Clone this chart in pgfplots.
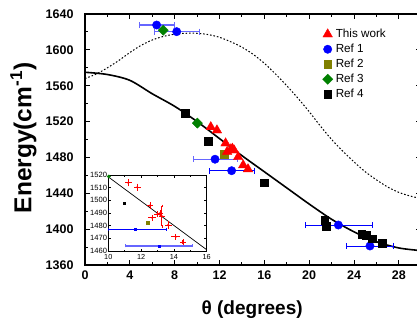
\documentclass[border=0pt]{standalone}
\usepackage{fontspec}
\setmainfont{Liberation Sans}
\usepackage{pgfplots}
\pgfplotsset{compat=1.18}
\definecolor{refolive}{RGB}{128,128,0}
\definecolor{refgreen}{RGB}{0,128,0}
\begin{document}
\begin{tikzpicture}
\begin{axis}[
  name=main, at={(0pt,0pt)}, anchor=south west,
  scale only axis, width=336.3pt, height=251pt,
  xmin=0, xmax=30, ymin=1360, ymax=1640,
  xtick={0,4,...,28}, ytick={1360,1400,...,1640},
  minor x tick num=1, minor y tick num=1,
  tick align=inside, major tick length=5pt, minor tick length=3pt,
  axis line style={line width=1.3pt},
  every tick/.style={line width=1pt, black},
  scaled ticks=false,
  /pgf/number format/assume math mode=true,
  /pgf/number format/1000 sep={},
  ticklabel style={font=\fontsize{12.5}{14}\selectfont\bfseries},
  yticklabel style={xshift=-8pt},
  xticklabel style={yshift=-2pt},
  xlabel={θ (degrees)}, ylabel={Energy(cm\textsuperscript{-1})},
  xlabel style={at={(axis description cs:0.497,-0.179)}, anchor=center, font=\fontsize{19}{22}\selectfont\bfseries},
  ylabel style={at={(axis description cs:-0.183,0.506)}, anchor=center, font=\fontsize{24.5}{28}\selectfont\bfseries},
  legend style={at={(axis description cs:0.697,0.950)}, anchor=north west, draw=none, fill=none,
    font=\fontsize{11.7}{13}\selectfont, row sep=4pt, column sep=2pt,
    nodes={inner sep=1pt, text height=8pt, text depth=1pt}},
  legend cell align=left,
  legend image code/.code={\draw[#1,mark repeat=2,mark phase=2] plot coordinates {(0pt,0pt) (5pt,0pt) (10pt,0pt)};},
]
\addlegendimage{only marks, mark=triangle*, mark size=5.5pt, red}
\addlegendentry{This work}
\addlegendimage{only marks, mark=*, mark size=4.2pt, blue}
\addlegendentry{Ref 1}
\addlegendimage{only marks, mark=square*, mark size=3.8pt, refolive}
\addlegendentry{Ref 2}
\addlegendimage{only marks, mark=square*, mark size=3.6pt, mark options={rotate=45}, refgreen}
\addlegendentry{Ref 3}
\addlegendimage{only marks, mark=square*, mark size=3.8pt, black}
\addlegendentry{Ref 4}
% fitted curves
\addplot[black, line width=1.6pt, smooth, forget plot] coordinates {
(0,1575)(2,1572.5)(4,1566)(6,1551)(8,1537)(10,1520)(12,1501)(14,1482)(16,1464)(18,1446)(20,1428)(22,1411)(24,1397)(26,1386)(28,1379)(30,1376)};
\addplot[black, line width=1pt, dash pattern=on 1.6pt off 1.9pt, smooth, forget plot] coordinates {
(0,1568)(1,1573)(2,1580)(3,1588)(4,1597)(5,1605)(6,1611)(7,1615)(8,1617.5)(9,1618.5)(10,1618.5)(11,1617)(12,1614)(13,1609)(14,1603)(15,1595)(16,1585)(17,1573)(18,1560)(19,1546)(20,1531)(21,1515)(22,1500)(23,1487)(24,1475)(25,1464)(26,1455)(27,1447)(28,1441)(29,1437)(30,1434)};
% Ref 1 (dark error bars)
\addplot[only marks, mark=*, mark size=4.2pt, blue, forget plot,
  error bars/.cd, x dir=both, x explicit,
  error bar style={line width=0.8pt, blue},
  error mark options={rotate=90, mark size=3pt, line width=0.8pt, blue}] coordinates {
(22.6,1404.6) += (3.03,0) -= (2.97,0)
(25.42,1381.2) += (2.08,0) -= (2.08,0)
(13.08,1465.2) += (2.0,0) -= (1.99,0)};
% Ref 1 (light error bars)
\addplot[only marks, mark=*, mark size=4.2pt, blue, forget plot,
  error bars/.cd, x dir=both, x explicit,
  error bar style={line width=1.1pt, blue!60},
  error mark options={rotate=90, mark size=3pt, line width=1pt, blue!60}] coordinates {
(6.39,1627.7) += (1.63,0) -= (1.55,0)
(8.18,1620.3) += (2.0,0) -= (1.94,0)
(11.6,1478) += (1.99,0) -= (1.88,0)};
% Ref 2
\addplot[only marks, mark=square*, mark size=3.8pt, refolive, forget plot] coordinates {(12.4,1483.5)};
% Ref 3
\addplot[only marks, mark=square*, mark size=3.6pt, mark options={rotate=45}, refgreen, forget plot] coordinates {(6.98,1622)(10.03,1518.3)};
% Ref 4
\addplot[only marks, mark=square*, mark size=3.8pt, black, forget plot] coordinates {
(8.92,1529.5)(11.0,1498.2)(15.97,1451.8)(21.4,1410)(21.5,1403)(24.7,1394.5)(25.1,1393.5)(25.6,1389.5)(26.5,1384)};
% This work
\addplot[only marks, mark=triangle*, mark size=5.5pt, red, forget plot] coordinates {
(11.22,1513.9)(11.77,1510.3)(12.54,1495.8)(12.68,1486.3)(13.01,1489.2)(13.15,1489.8)(13.3,1488)(13.66,1480.5)(14.11,1471.3)(14.54,1466.9)};
\end{axis}
% inset
\begin{axis}[
  at={(23.3pt,14pt)}, anchor=south west,
  scale only axis, width=98.4pt, height=76pt,
  xmin=10, xmax=16, ymin=1460, ymax=1520,
  xtick={10,12,14,16}, minor x tick num=1,
  ytick={1460,1470,...,1520},
  tick align=inside, major tick length=2.5pt, minor tick length=1.5pt,
  axis background/.style={fill=white},
  axis line style={line width=0.6pt},
  every tick/.style={line width=0.5pt, black},
  scaled ticks=false,
  /pgf/number format/assume math mode=true,
  /pgf/number format/1000 sep={},
  yticklabel style={font=\fontsize{7.6}{9}\selectfont, inner sep=1pt},
  xticklabel style={font=\fontsize{7.3}{9}\selectfont, inner sep=1pt, yshift=-2.6pt},
]
\addplot[black, line width=0.7pt] coordinates {(10,1518.5)(16,1461)};
\addplot[only marks, mark=*, mark size=0.9pt, red,
  error bars/.cd, x dir=both, x explicit, y dir=both, y explicit,
  error bar style={line width=0.6pt, red},
  error mark options={mark size=1.3pt, line width=0.5pt, red}] coordinates {
(11.22,1513.9) +- (0.12,1.8)
(11.77,1510.3) +- (0.12,1.8)
(12.54,1495.8) +- (0.1,1.8)
(12.68,1486.3) +- (0.15,1.2)
(13.01,1489.2) +- (0.12,1.5)
(13.15,1489.8) +- (0.12,1.5)
(13.26,1487.5) +- (0.1,8)
(13.66,1480.5) +- (0.12,1.8)
(14.11,1471.3) +- (0.18,1.2)
(14.54,1466.9) +- (0.1,1.5)};
\addplot[only marks, mark=square*, mark size=1.2pt, black] coordinates {(10.96,1497.7)};
\addplot[only marks, mark=square*, mark size=1.2pt, refolive] coordinates {(12.4,1482.4)};
\addplot[only marks, mark=square*, mark size=1.2pt, mark options={rotate=45}, refgreen] coordinates {(10.03,1518.8)};
\addplot[only marks, mark=square*, mark size=1.1pt, blue,
  error bars/.cd, x dir=both, x explicit,
  error bar style={line width=0.7pt, blue},
  error mark options={rotate=90, mark size=1.5pt, line width=0.6pt, blue}] coordinates {
(11.63,1477.1) += (1.93,0) -= (1.63,0)};
\addplot[only marks, mark=square*, mark size=1.1pt, blue,
  error bars/.cd, x dir=both, x explicit,
  error bar style={line width=1.3pt, blue!60},
  error mark options={rotate=90, mark size=1.5pt, line width=0.8pt, blue!60}] coordinates {
(13.09,1464) += (2.03,0) -= (2.03,0)};
\end{axis}
\pgfresetboundingbox
\path[use as bounding box] (-85pt,-59pt) rectangle (332pt,265pt);
\end{tikzpicture}
\end{document}
